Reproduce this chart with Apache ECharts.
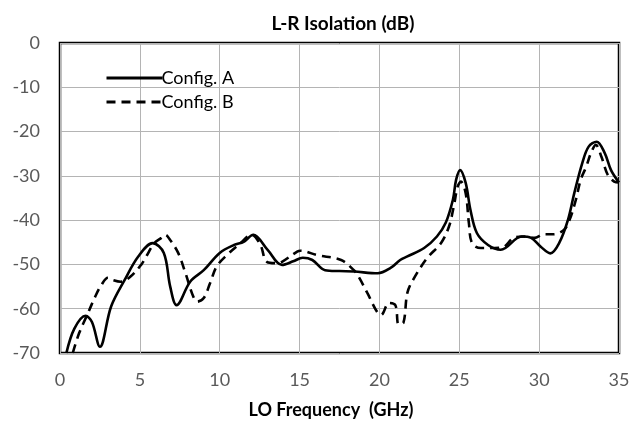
<!DOCTYPE html>
<html>
<head>
<meta charset="utf-8">
<script src="https://cdn.jsdelivr.net/npm/echarts@6/dist/echarts.min.js"></script>
<style>
  html, body { margin: 0; padding: 0; background: #fff; }
  #chart { width: 640px; height: 425px; }
</style>
</head>
<body>
<div id="chart"></div>
<script>
// values (GHz, dB)
const freqA = [0.4, 0.9, 1.6, 2.0, 2.5, 3.2, 4.05, 4.9, 5.8, 6.5, 6.9, 7.3, 8.15, 9.0, 10.0, 10.9, 11.5, 12.1, 13.0, 13.9, 14.6, 15.2, 15.8, 16.6, 17.5, 18.4, 19.9, 20.7, 21.3, 21.75, 22.8, 23.6, 24.15, 24.6, 24.8, 25.05, 25.4, 25.7, 26.1, 26.8, 27.6, 28.9, 29.5, 30.1, 30.7, 31.25, 31.8, 32.2, 32.7, 33.1, 33.6, 34.1, 34.5, 35.0];
const isoA  = [-70, -64.5, -61.6, -63, -68.6, -59.5, -53.5, -48.2, -45.2, -47.4, -55, -59.2, -53.9, -51.3, -47.4, -45.6, -44.9, -43.3, -46.7, -50.1, -49.3, -48.5, -49.0, -51.3, -51.5, -51.6, -52, -50.8, -49, -48.2, -46.3, -43.7, -40.6, -35.4, -30.9, -28.7, -31.6, -37.7, -42.9, -45.6, -46.7, -43.7, -44, -46, -47.5, -45.2, -40, -33.9, -27.1, -23.4, -22.3, -24.8, -28.7, -31.5];

const freqB = [0.8, 1.2, 1.75, 2.2, 2.6, 3.0, 3.3, 3.8, 4.4, 5.1, 5.4, 5.9, 6.35, 6.6, 6.9, 7.4, 7.85, 8.35, 8.6, 9.0, 9.4, 9.8, 10.45, 11.3, 12.0, 12.55, 12.95, 13.6, 13.9, 14.85, 15.05, 16.1, 17.6, 18.4, 18.7, 19.25, 19.85, 20.1, 20.6, 21.0, 21.2, 21.5, 21.75, 22.15, 23.0, 23.85, 24.35, 24.65, 24.9, 25.1, 25.4, 25.6, 25.8, 26.35, 27.2, 27.8, 28.4, 29.05, 29.7, 30.3, 30.9, 31.55, 31.9, 32.3, 32.6, 32.95, 33.25, 33.55, 33.9, 34.3, 34.7, 35.0];
const isoB  = [-70, -65.5, -61, -57.3, -54.6, -53, -53.5, -53.9, -52.8, -50, -48.2, -45.2, -44, -43.3, -44.5, -47.4, -51.9, -57.3, -58.4, -57.6, -54.2, -50.5, -47.9, -45.2, -43.3, -45.6, -49.4, -49.7, -49.4, -47.1, -46.9, -47.9, -49, -51.3, -52.8, -56.5, -60.7, -61.4, -58.7, -59.2, -63.5, -63.2, -56.4, -53.2, -48.5, -45.2, -41.5, -37, -32.4, -31.3, -33.9, -40.6, -45.2, -46.3, -46.3, -46, -44, -43.7, -44, -43.2, -43.2, -42.2, -40, -35.4, -30.9, -27.9, -24.8, -23, -25.7, -29.8, -31.3, -31.5];

const seriesNames = ['Config. A', 'Config. B'];

const FONT = 'Lato, "Liberation Sans", sans-serif';
const TICK = '#595959';
const GRIDLINE = '#b4b4b4';

const zip = (xs, ys) => xs.map((x, i) => [x, ys[i]]);

const chart = echarts.init(document.getElementById('chart'), null, { renderer: 'canvas' });

chart.setOption({
  backgroundColor: '#fff',
  animation: false,
  title: {
    text: 'L-R Isolation (dB)',
    left: 338, top: 9, textAlign: 'center',
    textStyle: { fontFamily: FONT, fontSize: 19, fontWeight: 'bold', color: '#000' },
  },
  legend: {
    orient: 'vertical',
    left: 100, top: 64,
    itemWidth: 56, itemHeight: 14, itemGap: 6,
    itemStyle: { opacity: 0 },
    lineStyle: { width: 3 },
    textStyle: { fontFamily: FONT, fontSize: 18, color: '#000', padding: [0, 0, 0, -6] },
    data: seriesNames,
  },
  grid: {
    left: 60, right: 21, top: 43, bottom: 72,
    show: true, borderColor: '#000', borderWidth: 2.5,
  },
  xAxis: {
    type: 'value', min: 0, max: 35, interval: 5,
    name: 'LO Frequency  (GHz)',
    nameLocation: 'middle', nameGap: 48,
    nameTextStyle: { fontFamily: FONT, fontSize: 18, fontWeight: 'bold', color: '#000', padding: [0, 17, 0, 0] },
    axisLine: { show: false },
    axisTick: { show: false },
    axisLabel: { fontFamily: FONT, fontSize: 18, color: TICK, margin: 18 },
    splitLine: { lineStyle: { color: GRIDLINE, width: 1 } },
  },
  yAxis: {
    type: 'value', min: -70, max: 0, interval: 10,
    axisLine: { show: false },
    axisTick: { show: false },
    axisLabel: { fontFamily: FONT, fontSize: 18, color: TICK, margin: 20 },
    splitLine: { lineStyle: { color: GRIDLINE, width: 1 } },
  },
  series: [
    {
      name: seriesNames[0], type: 'line', data: zip(freqA, isoA),
      smooth: 0.35, symbol: 'none', clip: true,
      lineStyle: { color: '#000', width: 2.6, type: 'solid' },
      itemStyle: { color: '#000' },
    },
    {
      name: seriesNames[1], type: 'line', data: zip(freqB, isoB),
      smooth: 0.35, symbol: 'none', clip: true,
      lineStyle: { color: '#000', width: 2.6, type: [9, 6] },
      itemStyle: { color: '#000' },
    },
  ],
});
</script>
</body>
</html>
